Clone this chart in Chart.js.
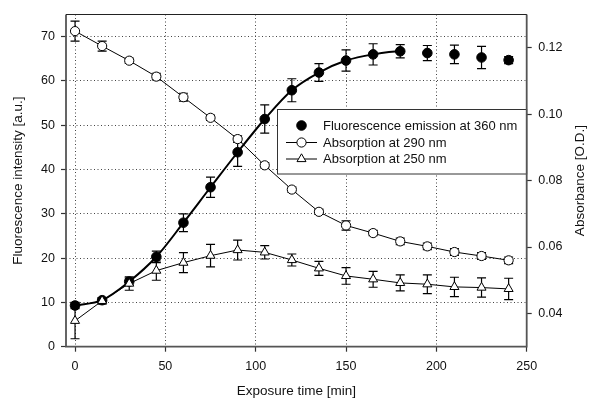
<!DOCTYPE html>
<html><head><meta charset="utf-8">
<script src="https://cdn.jsdelivr.net/npm/chart.js@4/dist/chart.umd.min.js"></script>
<style>html,body{margin:0;padding:0;background:#fff}canvas{display:block}</style>
</head><body>
<canvas id="c" width="589" height="401"></canvas>
<script>
// ---- data ----
const times = [0,15,30,45,60,75,90,105,120,135,150,165,180,195,210,225,240];
const fluor = [9.3,10.5,14.7,20.3,28.0,36.0,43.9,51.4,57.9,61.9,64.6,66.0,66.7,66.3,66.0,65.3,64.7];
const fluorErr = [0.7,0.5,0.8,1.3,2.0,2.3,3.2,3.2,2.6,2.0,2.4,2.4,1.5,1.7,2.1,2.5,0.8];
const abs290 = [0.125,0.1205,0.1161,0.1113,0.1051,0.0989,0.0925,0.0846,0.0773,0.0706,0.0665,0.0642,0.0617,0.0602,0.0585,0.0573,0.0560];
const abs290Err = [0.003,0.0015,0.0008,0.001,0.0012,0.0008,0.001,0.0008,0.0008,0.0008,0.0014,0.0008,0.001,0.001,0.001,0.001,0.001];
const abs250 = [0.0378,0.0438,0.049,0.0529,0.0553,0.0574,0.0591,0.0584,0.0561,0.0536,0.0513,0.0503,0.0492,0.0488,0.048,0.0478,0.0474];
const abs250Err = [0.0054,0.001,0.002,0.0029,0.003,0.0034,0.003,0.002,0.0018,0.0021,0.0025,0.0024,0.0024,0.0028,0.0029,0.0029,0.0032];
const fitEndIndex = 12; // fitted curve drawn up to 180 min
const xTicks = [0,50,100,150,200,250];
const yTicks = [0,10,20,30,40,50,60,70];
const y1Ticks = [0.04,0.06,0.08,0.10,0.12];
const seriesLabels = ['Fluorescence emission at 360 nm','Absorption at 290 nm','Absorption at 250 nm'];
const xTitle = 'Exposure time [min]';
const yTitle = 'Fluorescence intensity [a.u.]';
const y1Title = 'Absorbance [O.D.]';

const FONT = "'Liberation Sans', Arial, Helvetica, sans-serif";
Chart.defaults.font.family = FONT;
Chart.defaults.color = '#111';

const pts = arr => arr.map((v,i)=>({x:times[i], y:v}));

const errorBars = {
  id:'errorBars',
  beforeDatasetsDraw(chart){
    const ctx = chart.ctx, xs = chart.scales.x;
    ctx.save(); ctx.strokeStyle='#000'; ctx.lineWidth=1.2;
    chart.data.datasets.forEach(ds=>{
      const ys = chart.scales[ds.yAxisID];
      ds.data.forEach((p,i)=>{
        const e = ds.errors[i];
        const px = xs.getPixelForValue(p.x);
        const t = ys.getPixelForValue(p.y+e), b = ys.getPixelForValue(p.y-e);
        ctx.beginPath();
        ctx.moveTo(px,t); ctx.lineTo(px,b);
        ctx.moveTo(px-4.5,t); ctx.lineTo(px+4.5,t);
        ctx.moveTo(px-4.5,b); ctx.lineTo(px+4.5,b);
        ctx.stroke();
      });
    });
    ctx.restore();
  }
};

const frameAndLegend = {
  id:'frameAndLegend',
  afterDatasetsDraw(chart){
    const ctx = chart.ctx, a = chart.chartArea;
    ctx.save();
    // legend box
    const bx = 277.5, by = 109.5, bw = a.right - 277.5, bh = 64.5;
    ctx.fillStyle='#fff'; ctx.fillRect(bx,by,bw,bh);
    ctx.strokeStyle='#333'; ctx.lineWidth=1; ctx.strokeRect(bx,by,bw,bh);
    const rows = [125.5,142.5,159];
    ctx.font = '13px ' + FONT; ctx.fillStyle='#111'; ctx.textBaseline='middle'; ctx.textAlign='left';
    chart.data.datasets.forEach((ds,k)=>{
      const y = rows[k], cx = 301.5;
      if (k>0){ ctx.strokeStyle='#000'; ctx.lineWidth=1; ctx.beginPath(); ctx.moveTo(286,y); ctx.lineTo(317,y); ctx.stroke(); }
      ctx.lineWidth=1; ctx.strokeStyle='#000'; ctx.fillStyle = ds.pointBackgroundColor;
      Chart.helpers.drawPoint(ctx, {pointStyle: ds.pointStyle, radius: ds.pointRadius, borderWidth:1, rotation:0}, cx, y);
      ctx.fillStyle='#111';
      ctx.fillText(ds.label, 323, y+0.5);
    });
    // frame
    ctx.strokeStyle='#555'; ctx.lineWidth=1.8;
    ctx.beginPath();
    ctx.moveTo(a.left, a.top); ctx.lineTo(a.left, a.bottom); ctx.lineTo(a.right, a.bottom); ctx.lineTo(a.right, a.top);
    ctx.stroke();
    ctx.strokeStyle='#222'; ctx.lineWidth=1.2;
    ctx.beginPath(); ctx.moveTo(a.left, a.top); ctx.lineTo(a.right, a.top); ctx.stroke();
    // right axis title, reading bottom-to-top
    ctx.translate(580, (a.top + a.bottom)/2);
    ctx.rotate(-Math.PI/2);
    ctx.font = '13.5px ' + FONT; ctx.fillStyle='#111'; ctx.textAlign='center'; ctx.textBaseline='middle';
    ctx.fillText(y1Title, 0, 0);
    ctx.restore();
  }
};

const gridOpts = {color:'#444', lineWidth:1, tickLength:5, tickColor:'#333', tickWidth:1.2, tickBorderDash:[]};

new Chart(document.getElementById('c'), {
  type:'line',
  data:{datasets:[
    {label:seriesLabels[0], data:pts(fluor), errors:fluorErr, yAxisID:'y', borderColor:'#000', borderWidth:2,
     cubicInterpolationMode:'monotone', pointStyle:'circle', pointRadius:4.8, pointBackgroundColor:'#000', pointBorderColor:'#000', pointBorderWidth:1,
     segment:{borderColor: c => c.p0DataIndex >= fitEndIndex ? 'rgba(0,0,0,0)' : '#000'}, order:1},
    {label:seriesLabels[1], data:pts(abs290), errors:abs290Err, yAxisID:'y1', borderColor:'#000', borderWidth:1, tension:0,
     pointStyle:'circle', pointRadius:4.6, pointBackgroundColor:'#fff', pointBorderColor:'#000', pointBorderWidth:1, order:2},
    {label:seriesLabels[2], data:pts(abs250), errors:abs250Err, yAxisID:'y1', borderColor:'#000', borderWidth:1, tension:0,
     pointStyle:'triangle', pointRadius:5.2, pointBackgroundColor:'#fff', pointBorderColor:'#000', pointBorderWidth:1, order:0}
  ]},
  options:{
    responsive:false, animation:false, devicePixelRatio:1,
    layout:{padding:{top:14.5,left:0,right:0,bottom:0}},
    plugins:{legend:{display:false}, tooltip:{enabled:false}},
    scales:{
      x:{type:'linear', min:-5, max:250,
        afterBuildTicks:s=>{s.ticks = xTicks.map(v=>({value:v}));},
        afterFit:s=>{s.height = 54.3;},
        grid:gridOpts, border:{display:false, dash:[1,2.5]},
        ticks:{font:{size:12.5}, padding:7, maxRotation:0, autoSkip:false, color:'#111'},
        title:{display:true, text:xTitle, font:{size:13.5}, padding:{top:0,bottom:1.4}, color:'#111'}},
      y:{type:'linear', position:'left', min:0, max:75,
        afterBuildTicks:s=>{s.ticks = yTicks.map(v=>({value:v}));},
        afterFit:s=>{s.width = 66;},
        grid:gridOpts, border:{display:false, dash:[1,2.5]},
        ticks:{font:{size:12.5}, padding:6, color:'#111'},
        title:{display:true, text:yTitle, font:{size:13.5}, padding:{top:9.9,bottom:0}, color:'#111'}},
      y1:{type:'linear', position:'right', min:0.03, max:0.13,
        afterBuildTicks:s=>{s.ticks = y1Ticks.map(v=>({value:v}));},
        afterFit:s=>{s.width = 62.3;},
        grid:Object.assign({}, gridOpts, {drawOnChartArea:false}), border:{display:false},
        ticks:{font:{size:12.5}, padding:6.5, color:'#111', callback:v=>v.toFixed(2)},
        title:{display:false, text:y1Title}}
    }
  },
  plugins:[errorBars, frameAndLegend]
});
</script>
</body></html>
